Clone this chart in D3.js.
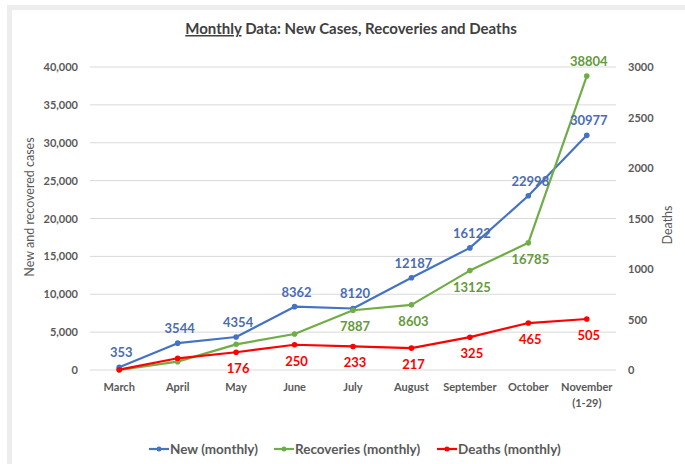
<!DOCTYPE html>
<html>
<head>
<meta charset="utf-8">
<script src="https://cdn.jsdelivr.net/npm/d3@7"></script>
<style>
  body { margin: 0; background: #fff; }
  svg text { font-family: Lato, "Open Sans", sans-serif; }
</style>
</head>
<body>
<svg id="chart" width="685" height="464"></svg>
<script>
// data
let months = ['March', 'April', 'May', 'June', 'July', 'August', 'September', 'October', 'November'];
let newCases = [353, 3544, 4354, 8362, 8120, 12187, 16122, 22998, 30977];
let recoveries = [20, 1100, 3390, 4750, 7887, 8603, 13125, 16785, 38804];
let deaths = [3, 116, 176, 250, 233, 217, 325, 465, 505];
// which points carry a label
let recLabelFrom = 4;
let deathLabelFrom = 2;
let leftTicks = [0, 5000, 10000, 15000, 20000, 25000, 30000, 35000, 40000];
let rightTicks = [0, 500, 1000, 1500, 2000, 2500, 3000];

const svg = d3.select('#chart');
let plot = {left: 90, right: 616, top: 67, bottom: 370};

// frame edge (light grey, left and top only)
svg.append('rect').attr('x', 7).attr('y', 5).attr('width', 678).attr('height', 5).style('fill', '#ededed');
svg.append('rect').attr('x', 7).attr('y', 5).attr('width', 5).attr('height', 459).style('fill', '#ededed');

let xScale = d3.scalePoint()
    .domain(months)
    .range([plot.left, plot.right])
    .padding(0.5);
let yScale = d3.scaleLinear()
    .domain([0, 40000])
    .range([plot.bottom, plot.top]);
let yScale2 = d3.scaleLinear()
    .domain([0, 3000])
    .range([plot.bottom, plot.top]);

// grid lines
svg.append('g').selectAll('line')
    .data(leftTicks)
    .enter().append('line')
    .attr('x1', plot.left).attr('x2', plot.right)
    .attr('y1', d => yScale(d)).attr('y2', d => yScale(d))
    .style('stroke', '#d9d9d9')
    .style('stroke-width', 1);

// left axis
let yAxis = d3.axisLeft(yScale).tickValues(leftTicks).tickFormat(d3.format(',')).tickSize(0).tickPadding(12);
let gy = svg.append('g')
    .attr('transform', 'translate(' + plot.left + ',0)')
    .call(yAxis);
gy.select('.domain').remove();
gy.selectAll('text').style('font-size', '11px').style('font-weight', 'bold').style('fill', '#595959');

// right axis (no thousands separator)
let yAxis2 = d3.axisRight(yScale2).tickValues(rightTicks).tickFormat(d3.format('d')).tickSize(0).tickPadding(12);
let gy2 = svg.append('g')
    .attr('transform', 'translate(' + plot.right + ',0)')
    .call(yAxis2);
gy2.select('.domain').remove();
gy2.selectAll('text').style('font-size', '11px').style('font-weight', 'bold').style('fill', '#595959');

// x axis labels
let gx = svg.append('g');
gx.selectAll('text')
    .data(months)
    .enter().append('text')
    .attr('x', d => xScale(d))
    .attr('y', 391)
    .style('text-anchor', 'middle')
    .style('font-size', '11px')
    .style('font-weight', 'bold')
    .style('fill', '#595959')
    .text(d => d);
gx.append('text')
    .attr('x', xScale('November'))
    .attr('y', 407)
    .style('text-anchor', 'middle')
    .style('font-size', '11px')
    .style('font-weight', 'bold')
    .style('fill', '#595959')
    .text('(1-29)');

// axis titles
svg.append('text')
    .attr('transform', 'translate(34,207) rotate(-90)')
    .style('text-anchor', 'middle')
    .style('font-size', '12.5px')
    .style('fill', '#595959')
    .text('New and recovered cases');
svg.append('text')
    .attr('transform', 'translate(672,225) rotate(-90)')
    .style('text-anchor', 'middle')
    .style('font-size', '12.5px')
    .style('fill', '#595959')
    .text('Deaths');

// title
let title = svg.append('text')
    .attr('x', 351)
    .attr('y', 34)
    .style('text-anchor', 'middle')
    .style('font-size', '15px')
    .style('font-weight', 'bold')
    .style('fill', '#404040');
title.append('tspan').style('text-decoration', 'underline').text('Monthly');
title.append('tspan').text(' Data: New Cases, Recoveries and Deaths');

let series = [
    {name: 'New (monthly)', values: newCases, y: yScale, color: '#4472c4', label: '#4a6cb3'},
    {name: 'Recoveries (monthly)', values: recoveries, y: yScale, color: '#70ad47', label: '#649a3c'},
    {name: 'Deaths (monthly)', values: deaths, y: yScale2, color: '#ff0000', label: '#ff0000'}
];

series.forEach(s => {
    let line = d3.line()
        .x((d, i) => xScale(months[i]))
        .y(d => s.y(d));
    svg.append('path')
        .datum(s.values)
        .attr('d', line)
        .style('fill', 'none')
        .style('stroke', s.color)
        .style('stroke-width', 2.2)
        .style('stroke-linejoin', 'round');
    svg.append('g').selectAll('circle')
        .data(s.values)
        .enter().append('circle')
        .attr('cx', (d, i) => xScale(months[i]))
        .attr('cy', d => s.y(d))
        .attr('r', 2.8)
        .style('fill', s.color);
});

// data labels
function addLabels(s, from, place) {
    svg.append('g').selectAll('text')
        .data(s.values.map((v, i) => ({v: v, i: i})).filter(d => d.i >= from))
        .enter().append('text')
        .attr('x', d => xScale(months[d.i]) + 2)
        .attr('y', d => s.y(d.v) + place(d.i))
        .style('text-anchor', 'middle')
        .style('font-size', '13px')
        .style('font-weight', 'bold')
        .style('fill', s.label)
        .text(d => d.v);
}
addLabels(series[0], 0, i => -10);
addLabels(series[1], recLabelFrom, i => (i == 8 ? -10 : 21));
addLabels(series[2], deathLabelFrom, i => 21);

// legend
let legendX = [149, 274, 437];
series.forEach((s, k) => {
    let lg = svg.append('g').attr('transform', 'translate(' + legendX[k] + ',449)');
    lg.append('line').attr('x1', 0).attr('x2', 20).attr('y1', 0).attr('y2', 0)
        .style('stroke', s.color).style('stroke-width', 2.2);
    lg.append('circle').attr('cx', 10).attr('cy', 0).attr('r', 2.5).style('fill', s.color);
    lg.append('text').attr('x', 21).attr('y', 5)
        .style('font-size', '13.5px')
        .style('font-weight', 'bold')
        .style('fill', '#595959')
        .text(s.name);
});
</script>
</body>
</html>
